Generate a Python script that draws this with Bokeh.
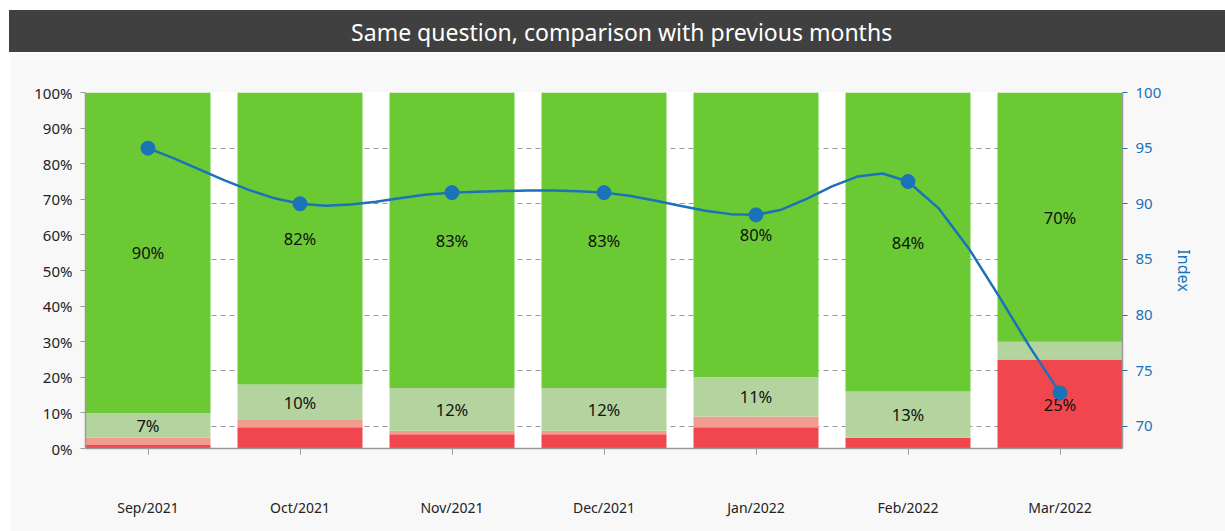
import numpy as np
from bokeh.plotting import figure
from bokeh.models import Range1d, LinearAxis, FixedTicker, Grid, ColumnDataSource
from bokeh.layouts import column
from bokeh.embed import file_html
from bokeh.resources import INLINE
from bokeh.core.properties import value

# ---- data ----
title_text = "Same question, comparison with previous months"
months = ["Sep/2021", "Oct/2021", "Nov/2021", "Dec/2021", "Jan/2022", "Feb/2022", "Mar/2022"]
very_negative = [1, 6, 4, 4, 6, 3, 25]
negative = [2, 2, 1, 1, 3, 0, 0]
positive = [7, 10, 12, 12, 11, 13, 5]
very_positive = [90, 82, 83, 83, 80, 84, 70]
index_values = [95, 90, 91, 91, 89, 92, 73]
pct_ticks = [0, 10, 20, 30, 40, 50, 60, 70, 80, 90, 100]
index_ticks = [70, 75, 80, 85, 90, 95, 100]

FONT = "Noto Sans"
C_RED = "#f2464f"
C_LRED = "#f29b8f"
C_LGREEN = "#b3d49e"
C_GREEN = "#6bc934"
C_BLUE = "#1a72b8"
C_AXIS = "#9a9a9a"
C_DARK = "#404040"

W = 1216
BL, BR = 76, 103

# ---- title bar ----
t = figure(width=W, height=42, x_range=Range1d(0, 1), y_range=Range1d(0, 1),
           toolbar_location=None, output_backend="svg",
           x_axis_location=None, y_axis_location=None,
           min_border_left=BL, min_border_right=BR, min_border_top=0, min_border_bottom=0,
           outline_line_color=None, background_fill_color=C_DARK,
           border_fill_color=C_DARK, styles={"background-color": C_DARK})
t.grid.visible = False
t.text(x=[0.517], y=[0.5], text=[title_text], text_align="center", text_baseline="middle",
       text_color="white", text_font=value(FONT), text_font_size="23px")

# ---- main chart ----
n = len(months)
xs = list(range(n))
bar_w = 125 / 152
p = figure(width=W, height=479,
           x_range=Range1d(-bar_w / 2, n - 1 + bar_w / 2), y_range=Range1d(0, 100),
           toolbar_location=None, output_backend="svg",
           min_border_left=BL, min_border_right=BR, min_border_top=40, min_border_bottom=83,
           background_fill_color="white", border_fill_color="#f8f8f8",
           outline_line_color=None)
p.xgrid.visible = False
p.ygrid.visible = False
p.extra_y_ranges = {"idx": Range1d(68, 100)}

src = ColumnDataSource(dict(x=xs, vneg=very_negative, neg=negative, pos=positive, vpos=very_positive))
p.vbar_stack(["vneg", "neg", "pos", "vpos"], x="x", width=bar_w, source=src,
             color=[C_RED, C_LRED, C_LGREEN, C_GREEN], line_color=None)

# in-bar labels
lx, ly, lt = [], [], []
for i in range(n):
    base = 0
    for v in (very_negative[i], negative[i], positive[i], very_positive[i]):
        if v >= 7:
            lx.append(xs[i]); ly.append(base + v / 2); lt.append(f"{v}%")
        base += v
p.text(x=lx, y=ly, text=lt, text_align="center", text_baseline="middle",
       text_color="#111111", text_font=value(FONT), text_font_size="16.5px")

# dashed grid on right axis ticks
grid = Grid(dimension=1, ticker=FixedTicker(ticks=index_ticks[:-1]), y_range_name="idx",
            grid_line_color="#999999", grid_line_dash="5 4", grid_line_width=1)
p.add_layout(grid)

# spline through index points (cardinal spline, drawn as short segments)
xa = np.array(xs, dtype=float)
ya = np.array(index_values, dtype=float)
m = np.zeros(n)
m[1:-1] = (ya[2:] - ya[:-2]) / 2
m[0] = ya[1] - ya[0]
m[-1] = ya[-1] - ya[-2]
cx, cy = [], []
for i in range(n - 1):
    for s in np.linspace(0, 1, 6, endpoint=(i == n - 2)):
        h00 = 2 * s**3 - 3 * s**2 + 1
        h10 = s**3 - 2 * s**2 + s
        h01 = -2 * s**3 + 3 * s**2
        h11 = s**3 - s**2
        cx.append(xa[i] + s)
        cy.append(h00 * ya[i] + h10 * m[i] + h01 * ya[i + 1] + h11 * m[i + 1])
p.line(cx, cy, line_color=C_BLUE, line_width=2.5, y_range_name="idx")
p.scatter(xs, index_values, size=14, fill_color=C_BLUE, line_color=C_BLUE, y_range_name="idx")

# axes
yax = p.yaxis[0]
yax.ticker = FixedTicker(ticks=pct_ticks)
yax.major_label_overrides = {v: f"{v}%" for v in pct_ticks}
yax.axis_line_color = C_AXIS
yax.axis_line_width = 1.5
yax.major_tick_line_color = C_AXIS
yax.minor_tick_line_color = None
yax.major_tick_out = 5
yax.major_tick_in = 0
yax.major_label_standoff = 8
yax.major_label_text_font = FONT
yax.major_label_text_font_size = "15px"
yax.major_label_text_color = "#222222"

xax = p.xaxis[0]
xax.ticker = FixedTicker(ticks=xs)
xax.major_label_overrides = {i: months[i] for i in xs}
xax.axis_line_color = C_AXIS
xax.axis_line_width = 1.5
xax.major_tick_line_color = C_AXIS
xax.minor_tick_line_color = None
xax.major_tick_out = 6
xax.major_tick_in = 0
xax.major_label_standoff = 43
xax.major_label_text_font = FONT
xax.major_label_text_font_size = "14px"
xax.major_label_text_color = "#222222"

rax = LinearAxis(y_range_name="idx", ticker=FixedTicker(ticks=index_ticks), axis_label="Index")
rax.axis_line_color = C_AXIS
rax.axis_line_width = 1.5
rax.major_tick_line_color = C_BLUE
rax.minor_tick_line_color = None
rax.major_tick_out = 5
rax.major_tick_in = 0
rax.major_label_standoff = 8
rax.major_label_text_font = FONT
rax.major_label_text_font_size = "15px"
rax.major_label_text_color = C_BLUE
rax.axis_label_text_font = FONT
rax.axis_label_text_font_size = "16px"
rax.axis_label_text_font_style = "normal"
rax.axis_label_text_color = C_BLUE
rax.axis_label_standoff = 9
p.add_layout(rax, "right")

layout = column(t, p, margin=(10, 0, 0, 9), spacing=0)
open("out.html", "w").write(file_html(layout, INLINE))
